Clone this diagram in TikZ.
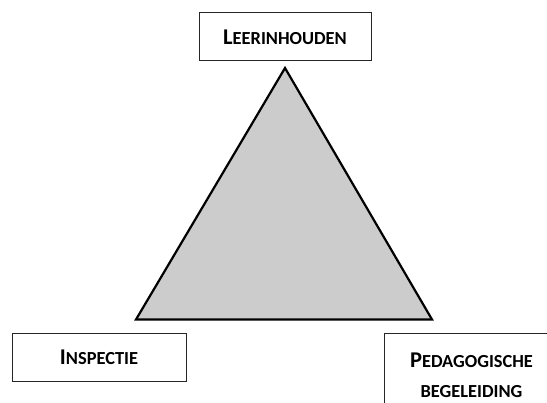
\documentclass[tikz,border=0pt]{standalone}
\usepackage{fontspec}
\setmainfont{Carlito}
\newcommand{\capbig}[1]{{\fontsize{22.5}{30}\selectfont #1}}
\newcommand{\capsmall}[1]{{\fontsize{18.4}{30}\selectfont #1}}
\tikzset{
  labelbox/.style={draw=black!85, line width=1pt, inner sep=0pt, align=center,
    font=\bfseries\fontsize{18.4}{30}\selectfont},
}
\begin{document}
\begin{tikzpicture}[x=1pt,y=-1pt]
      \clip (0,0) rectangle (547,403);
      \fill[white] (0,0) rectangle (547,403);
      \draw[line width=2.2pt, fill=black!20, line join=miter] (285,68) -- (136,319.5) -- (432,319.5) -- cycle;
      \node[labelbox, minimum width=172pt, minimum height=48pt] (leer) at (285,37) {\capbig{L}\capsmall{EERINHOUDEN}};
      \node[labelbox, minimum width=174pt, minimum height=48pt] (insp) at (99,357.5) {\capbig{I}\capsmall{NSPECTIE}};
      \node[labelbox, anchor=north west, minimum width=174pt, minimum height=84pt] (peda) at (384,333) {\capbig{P}\capsmall{EDAGOGISCHE}\\\capsmall{BEGELEIDING}};
    \end{tikzpicture}
\end{document}
